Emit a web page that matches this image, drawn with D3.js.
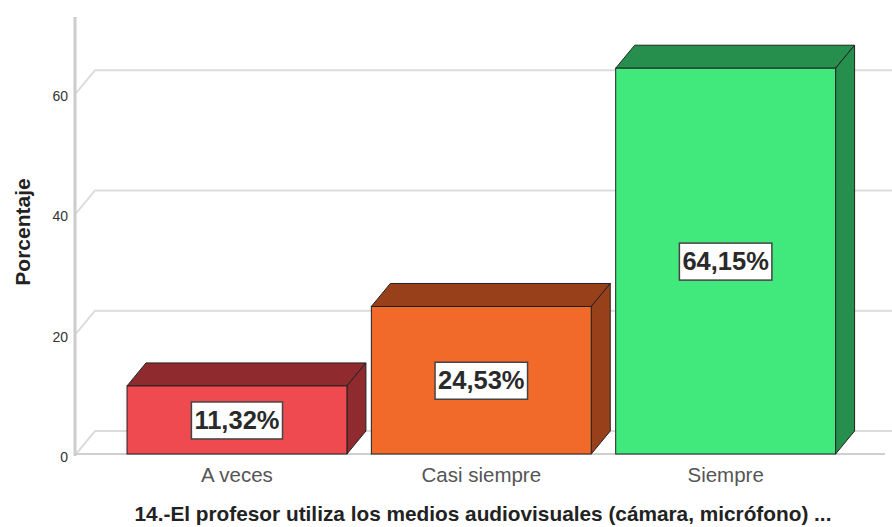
<!DOCTYPE html>
<html>
<head>
<meta charset="utf-8">
<script src="https://cdn.jsdelivr.net/npm/d3@7"></script>
<style>
    body { margin: 0; background: #fff; }
    text { font-family: "Liberation Sans", Arial, sans-serif; }
</style>
</head>
<body>
<div id="chart"></div>
<script>
// Data
const categories = ['A veces', 'Casi siempre', 'Siempre'];
const percents = [11.32, 24.53, 64.15];
const valueLabels = ['11,32%', '24,53%', '64,15%'];
const yTicks = [0, 20, 40, 60];
const xTitle = '14.-El profesor utiliza los medios audiovisuales (cámara, micrófono) ...';
const yTitle = 'Porcentaje';

const frontColors = ['#ee4a4f', '#f26a2a', '#41e87c'];
const darkColors = ['#8f2b2e', '#97401a', '#278f4e'];

// SVG size and 3D depth offset
const width = 892, height = 527;
const depth = { dx: 19, dy: -23 };

const svg = d3.select('#chart')
    .append('svg')
    .attr('width', width)
    .attr('height', height);

// Scales
const yScale = d3.scaleLinear()
    .domain([0, 72.5])
    .range([454, 18]);

const xScale = d3.scaleBand()
    .domain(categories)
    .range([114.8, 847.8])
    .paddingInner(0.1)
    .paddingOuter(0.05);

const axisX = 76;

// Walls: gridlines on left wall (diagonal) + back wall (horizontal)
const grid = svg.append('g');
grid.selectAll('.gridline')
    .data(yTicks)
    .join('path')
    .attr('d', d => {
        const y = yScale(d);
        return `M${axisX},${y} L${axisX + depth.dx},${y + depth.dy} L${width},${y + depth.dy}`;
    })
    .attr('fill', 'none')
    .attr('stroke', '#dcdcdc')
    .attr('stroke-width', 2);

// floor front edge
grid.append('line')
    .attr('x1', axisX).attr('x2', 885)
    .attr('y1', yScale(0)).attr('y2', yScale(0))
    .attr('stroke', '#cfcfcf')
    .attr('stroke-width', 2);

// vertical axis line
grid.append('line')
    .attr('x1', axisX - 1).attr('x2', axisX - 1)
    .attr('y1', yScale.range()[1] - 1).attr('y2', yScale(0) + 2)
    .attr('stroke', '#cccccc')
    .attr('stroke-width', 3);

// Y tick labels
svg.selectAll('.ytick')
    .data(yTicks)
    .join('text')
    .attr('x', 68)
    .attr('y', d => yScale(d) + 3)
    .attr('dy', '0.35em')
    .attr('text-anchor', 'end')
    .attr('font-size', 14)
    .attr('fill', '#333')
    .text(d => d);

// Bars (front, top, side faces)
const bars = svg.selectAll('.bar')
    .data(categories)
    .join('g');

const bw = xScale.bandwidth();
bars.append('polygon') // top
    .attr('points', (d, i) => {
        const x0 = xScale(d), yt = yScale(percents[i]);
        return [[x0, yt], [x0 + depth.dx, yt + depth.dy], [x0 + bw + depth.dx, yt + depth.dy], [x0 + bw, yt]].join(' ');
    })
    .attr('fill', (d, i) => darkColors[i])
    .attr('stroke', '#222')
    .attr('stroke-width', 1);
bars.append('polygon') // side
    .attr('points', (d, i) => {
        const x1 = xScale(d) + bw, yt = yScale(percents[i]), yb = yScale(0);
        return [[x1, yt], [x1 + depth.dx, yt + depth.dy], [x1 + depth.dx, yb + depth.dy], [x1, yb]].join(' ');
    })
    .attr('fill', (d, i) => darkColors[i])
    .attr('stroke', '#222')
    .attr('stroke-width', 1);
bars.append('rect') // front
    .attr('x', d => xScale(d))
    .attr('y', (d, i) => yScale(percents[i]))
    .attr('width', bw)
    .attr('height', (d, i) => yScale(0) - yScale(percents[i]))
    .attr('fill', (d, i) => frontColors[i])
    .attr('stroke', '#222')
    .attr('stroke-width', 1);

// Value labels in white boxes
bars.each(function(d, i) {
    const g = d3.select(this);
    const cx = xScale(d) + bw / 2;
    const cy = (yScale(percents[i]) + yScale(0)) / 2;
    const box = g.append('rect')
        .attr('fill', '#fff')
        .attr('stroke', '#444')
        .attr('stroke-width', 1.5);
    const t = g.append('text')
        .attr('x', cx)
        .attr('y', cy)
        .attr('dy', '0.36em')
        .attr('text-anchor', 'middle')
        .attr('font-size', 25.5)
        .attr('font-weight', 'bold')
        .attr('fill', '#2a2a2a')
        .text(valueLabels[i]);
    const bb = t.node().getBBox();
    box.attr('x', bb.x - 3).attr('y', cy - 18)
        .attr('width', bb.width + 6).attr('height', 37);
});

// Category labels
svg.selectAll('.xlabel')
    .data(categories)
    .join('text')
    .attr('x', d => xScale(d) + bw / 2)
    .attr('y', 482)
    .attr('text-anchor', 'middle')
    .attr('font-size', 20.5)
    .attr('fill', '#555')
    .text(d => d);

// Axis titles
svg.append('text')
    .attr('x', 483)
    .attr('y', 521)
    .attr('text-anchor', 'middle')
    .attr('font-size', 20.8)
    .attr('font-weight', 'bold')
    .attr('fill', '#222')
    .text(xTitle);

svg.append('text')
    .attr('transform', 'translate(30, 232) rotate(-90)')
    .attr('text-anchor', 'middle')
    .attr('font-size', 21)
    .attr('font-weight', 'bold')
    .attr('fill', '#222')
    .text(yTitle);
</script>
</body>
</html>
